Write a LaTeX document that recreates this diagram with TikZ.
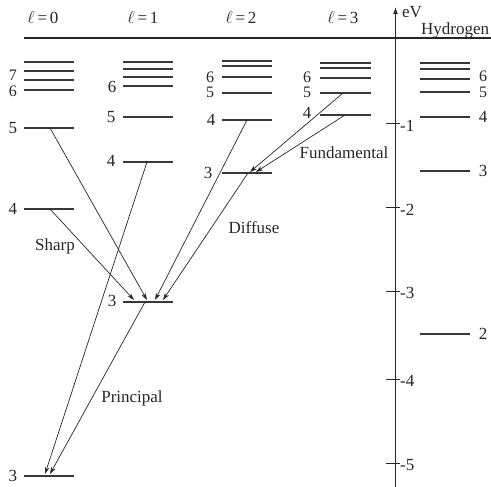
\documentclass[tikz,border=0pt]{standalone}
\usepackage{fontspec}
\setmainfont{Liberation Serif}
\usetikzlibrary{arrows.meta}
\begin{document}
\begin{tikzpicture}[x=1pt,y=-1pt,
  lev/.style={line width=1.7pt, draw=black!78},
  tr/.style={line width=0.7pt, draw=black!85, -{Stealth[length=7pt,width=4.5pt,inset=2pt]}},
  lab/.style={font=\fontsize{17}{17}\selectfont, inner sep=0pt, text=black!85},
  num/.style={font=\fontsize{16}{16}\selectfont, inner sep=0pt, text=black!85},
  tick/.style={line width=1pt, draw=black!85}]
\useasboundingbox (0,0) rectangle (491,487);

% header
\draw[line width=1.2pt, draw=black!85] (24,38) -- (491,38);
\node[lab] (h0) at (43,18) {$\ell$\,=\,0};
\node[lab] (h1) at (143,18) {$\ell$\,=\,1};
\node[lab] (h2) at (241,18) {$\ell$\,=\,2};
\node[lab] (h3) at (343,18) {$\ell$\,=\,3};
\node[lab, anchor=west] (ev) at (402,12) {eV};
\node[lab, anchor=west] (hyd) at (421,30) {Hydrogen};

% energy axis
\coordinate (axb) at (395.5,487);
\coordinate (axt) at (395.5,7);
\draw[line width=1.2pt, draw=black!85, -{Latex[length=7pt,width=5pt]}] (axb) -- (axt);
\foreach \y/\t in {124/1,208/2,291/3,379/4,463/5}{
  \draw[tick] (386,\y) -- (400,\y);
  \node[lab, anchor=west] (tk\t) at (400,\y+2) {-\t};
}

% l = 0
\foreach \y in {62,71,80,90,128,209,476} \draw[lev] (24,\y) -- (74,\y);
\node[num] (a7) at (13,75) {7};
\node[num] (a6) at (13,91) {6};
\node[lab] (a5) at (13,128) {5};
\node[lab] (a4) at (13,209) {4};
\node[lab] (a3) at (13,476) {3};

% l = 1
\foreach \y in {62,69,77,86,117,162,302} \draw[lev] (123,\y) -- (173,\y);
\node[lab] (b6) at (112,87) {6};
\node[lab] (b5) at (111,117) {5};
\node[lab] (b4) at (111,161) {4};
\node[lab] (b3) at (112,301) {3};

% l = 2
\foreach \y in {61,66,77,93,120,173} \draw[lev] (222,\y) -- (272,\y);
\node[num] (c6) at (210,77) {6};
\node[num] (c5) at (210,92) {5};
\node[lab] (c4) at (211,120) {4};
\node[lab] (c3) at (208,173) {3};

% l = 3
\foreach \y in {63,68,78,93,115} \draw[lev] (320,\y) -- (371,\y);
\node[num] (d6) at (307,77) {6};
\node[num] (d5) at (307,92) {5};
\node[lab] (d4) at (307,113) {4};

% hydrogen
\foreach \y in {63,69,79,92,117,171,334} \draw[lev] (420,\y) -- (470,\y);
\node[num] (e6) at (483,76) {6};
\node[num] (e5) at (483,92) {5};
\node[lab] (e4) at (483,117) {4};
\node[lab] (e3) at (483,171) {3};
\node[lab] (e2) at (483,334) {2};

% transition end points
\coordinate (s5) at (50,128);
\coordinate (s4) at (50,209);
\coordinate (p4) at (147,162);
\coordinate (p3) at (145,302);
\coordinate (dd4) at (247,120);
\coordinate (dd3) at (248,173);
\coordinate (f5) at (343,93);
\coordinate (f4) at (345,115);
\coordinate (tS) at (134,300);
\coordinate (tS5) at (147,300);
\coordinate (tD4) at (155,300);
\coordinate (tD3) at (163,300);
\coordinate (tF5) at (250,172);
\coordinate (tF4) at (256,172);
\coordinate (tP4) at (45,474);
\coordinate (tP3) at (50,474);

% transitions
\draw[tr] (s4) -- (tS);
\draw[tr] (s5) -- (tS5);
\draw[tr] (dd4) -- (tD4);
\draw[tr] (dd3) -- (tD3);
\draw[tr] (f5) -- (tF5);
\draw[tr] (f4) -- (tF4);
\draw[tr] (p4) -- (tP4);
\draw[tr] (p3) -- (tP3);

% series names
\node[lab] (sharp) at (55,246) {Sharp};
\node[lab] (diff) at (254,228) {Diffuse};
\node[lab] (fund) at (344,153) {Fundamental};
\node[lab] (princ) at (132,398) {Principal};
\end{tikzpicture}
\end{document}
